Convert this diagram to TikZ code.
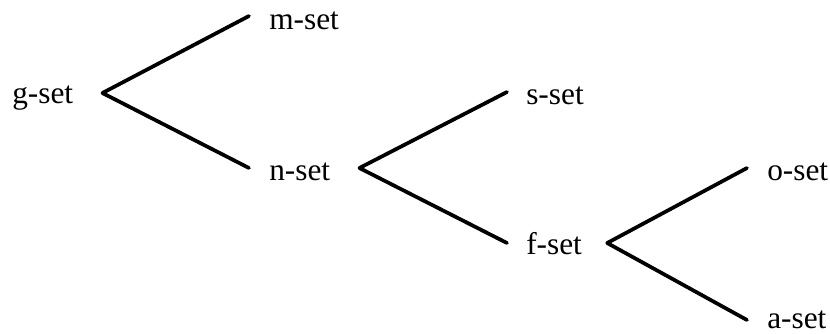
\documentclass[tikz,border=0pt]{standalone}
\usepackage{fontspec}
\setmainfont{Liberation Serif}
\usetikzlibrary{positioning}
\tikzstyle{lbl} = [inner sep=0pt, anchor=base west, font=\fontsize{23.5}{28}\selectfont]
\tikzstyle{branch} = [line width=2.8pt, line cap=round]
\begin{document}
\begin{tikzpicture}[x=0.75pt,y=-0.75pt]
\useasboundingbox (0,0) rectangle (830,333);
\draw (12,103) node (g) [lbl] {g-set};
\draw (269,29) node (m) [lbl] {m-set};
\draw (269,180) node (n) [lbl] {n-set};
\draw (526,104) node (s) [lbl] {s-set};
\draw (526,254) node (f) [lbl] {f-set};
\draw (767,180) node (o) [lbl] {o-set};
\draw (767,328) node (a) [lbl] {a-set};
\draw[branch] ([shift={(29,-10)}]g.base east) -- ([shift={(-20,-13)}]m.base west);
\draw[branch] ([shift={(29,-10)}]g.base east) -- ([shift={(-20,-12)}]n.base west);
\draw[branch] ([shift={(29,-12)}]n.base east) -- ([shift={(-19,-12)}]s.base west);
\draw[branch] ([shift={(29,-12)}]n.base east) -- ([shift={(-19,-11)}]f.base west);
\draw[branch] ([shift={(25,-11)}]f.base east) -- ([shift={(-20,-12)}]o.base west);
\draw[branch] ([shift={(25,-11)}]f.base east) -- ([shift={(-20,-8)}]a.base west);
\end{tikzpicture}
\end{document}
